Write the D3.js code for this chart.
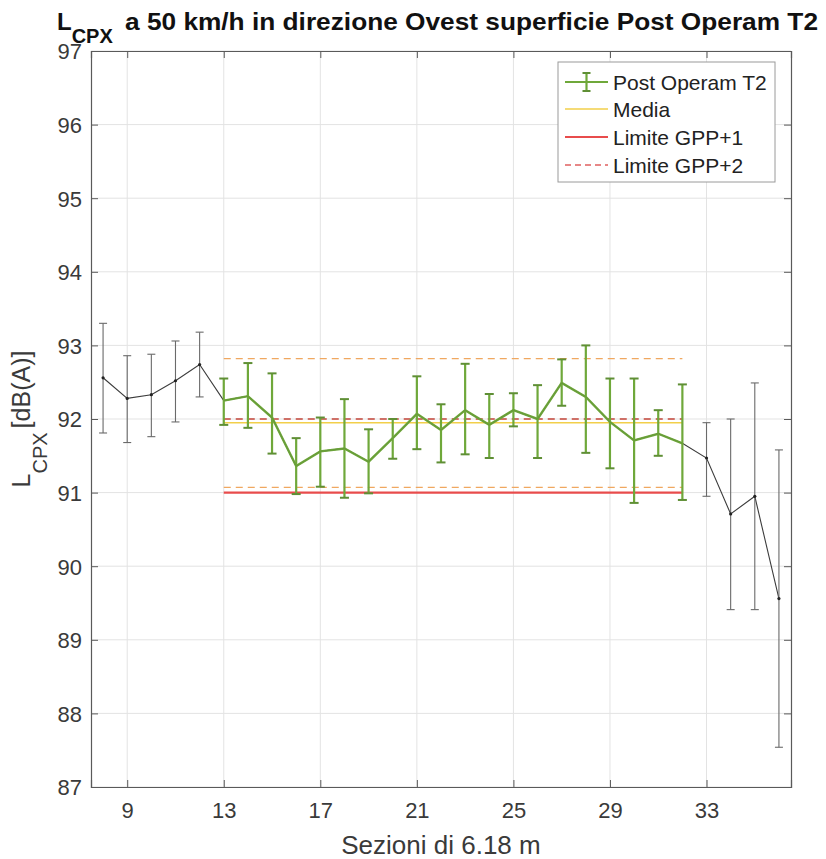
<!DOCTYPE html>
<html><head><meta charset="utf-8">
<script src="https://cdn.jsdelivr.net/npm/d3@7"></script>
<style>body{margin:0;background:#fff;} svg{display:block;font-family:"Liberation Sans",Arial,sans-serif;}</style>
</head><body>
<svg id="c" width="826" height="859"></svg>
<script>
// ---- data ----
const sections = [8,9,10,11,12,13,14,15,16,17,18,19,20,21,22,23,24,25,26,27,28,29,30,31,32,33,34,35,36];
const meanValues = [92.56,92.28,92.33,92.52,92.74,92.25,92.31,92.02,91.36,91.56,91.60,91.42,91.74,92.07,91.85,92.12,91.92,92.12,92.00,92.49,92.30,91.96,91.71,91.80,91.67,91.47,90.71,90.95,89.56];
const upperValues = [93.30,92.86,92.88,93.06,93.18,92.55,92.76,92.62,91.74,92.02,92.27,91.86,92.00,92.58,92.20,92.75,92.34,92.35,92.46,92.81,93.00,92.55,92.55,92.12,92.47,91.95,92.00,92.49,91.58];
const lowerValues = [91.81,91.68,91.76,91.96,92.30,91.92,91.88,91.53,90.98,91.08,90.93,90.99,91.46,91.59,91.41,91.52,91.47,91.90,91.47,92.18,91.54,91.33,90.86,91.50,90.90,90.95,89.41,89.41,87.54];
const postOperamRange = [13, 32];
const mediaValue = 91.95;
const limiteGPP1 = 91.0;
const limiteGPP2 = 92.0;
const bandValues = [92.82, 91.07];
const xTicks = [9,13,17,21,25,29,33];
const yTicks = [87,88,89,90,91,92,93,94,95,96,97];
const legendLabels = ["Post Operam T2","Media","Limite GPP+1","Limite GPP+2"];

// ---- layout ----
const L = 91, R = 791, T = 51, B = 787;
const svg = d3.select("#c");
const x = d3.scaleLinear().domain([7.5, 36.5]).range([L, R]);
const y = d3.scaleLinear().domain([87, 97]).range([B, T]);
const axisCol = "#5a5a5a", textCol = "#3a3a3a";

const pts = sections.map((s,i)=>({s, m:meanValues[i], u:upperValues[i], l:lowerValues[i]}));
const green = pts.filter(p=>p.s>=postOperamRange[0] && p.s<=postOperamRange[1]);

// grid
const g = svg.append("g");
g.selectAll(".gx").data(xTicks).join("line").attr("x1",d=>x(d)).attr("x2",d=>x(d)).attr("y1",T).attr("y2",B).attr("stroke","#e3e3e3").attr("stroke-width",1);
g.selectAll(".gy").data(yTicks).join("line").attr("x1",L).attr("x2",R).attr("y1",d=>y(d)).attr("y2",d=>y(d)).attr("stroke","#e3e3e3").attr("stroke-width",1);

// axes
const ax = svg.append("g").attr("transform",`translate(0,${B})`).call(d3.axisBottom(x).tickValues(xTicks).tickSize(-7).tickPadding(15).tickFormat(d3.format("d")));
const axT = svg.append("g").attr("transform",`translate(0,${T})`).call(d3.axisTop(x).tickValues(xTicks).tickSize(-7).tickFormat(""));
const ay = svg.append("g").attr("transform",`translate(${L},0)`).call(d3.axisLeft(y).tickValues(yTicks).tickSize(-7).tickPadding(9).tickFormat(d3.format("d")));
const ayR = svg.append("g").attr("transform",`translate(${R},0)`).call(d3.axisRight(y).tickValues(yTicks).tickSize(-7).tickFormat(""));
[ax,axT,ay,ayR].forEach(a=>{
  a.select(".domain").attr("stroke",axisCol).attr("stroke-width",1.2);
  a.selectAll(".tick line").attr("stroke",axisCol);
  a.selectAll(".tick text").attr("fill",textCol).attr("font-size",22).attr("font-family","Liberation Sans, Arial, sans-serif");
});
ay.selectAll(".tick text").attr("dy","0.36em");

// horizontal reference lines
const hx1 = x(postOperamRange[0]), hx2 = x(postOperamRange[1]);
svg.selectAll(".band").data(bandValues).join("line").attr("x1",hx1).attr("x2",hx2).attr("y1",d=>y(d)).attr("y2",d=>y(d)).attr("stroke","#f0a860").attr("stroke-width",1.2).attr("stroke-dasharray","7,5");
svg.append("line").attr("x1",hx1).attr("x2",hx2).attr("y1",y(limiteGPP1)).attr("y2",y(limiteGPP1)).attr("stroke","#e84c4c").attr("stroke-width",2.2);
svg.append("line").attr("x1",hx1).attr("x2",hx2).attr("y1",y(limiteGPP2)).attr("y2",y(limiteGPP2)).attr("stroke","#c4453a").attr("stroke-width",1.6).attr("stroke-dasharray","7,5");
svg.append("line").attr("x1",hx1).attr("x2",hx2).attr("y1",y(mediaValue)).attr("y2",y(mediaValue)).attr("stroke","#f2cf4a").attr("stroke-width",1.6);

// black series (all)
const line = d3.line().x(d=>x(d.s)).y(d=>y(d.m));
svg.append("path").datum(pts).attr("d",line).attr("fill","none").attr("stroke","#3c3c3c").attr("stroke-width",1.1);
const eb = svg.append("g").selectAll("g").data(pts.filter(p=>!green.includes(p))).join("g");
eb.append("line").attr("x1",d=>x(d.s)).attr("x2",d=>x(d.s)).attr("y1",d=>y(d.u)).attr("y2",d=>y(d.l)).attr("stroke","#6a6a6a").attr("stroke-width",1.1);
eb.append("line").attr("x1",d=>x(d.s)-4).attr("x2",d=>x(d.s)+4).attr("y1",d=>y(d.u)).attr("y2",d=>y(d.u)).attr("stroke","#6a6a6a").attr("stroke-width",1.1);
eb.append("line").attr("x1",d=>x(d.s)-4).attr("x2",d=>x(d.s)+4).attr("y1",d=>y(d.l)).attr("y2",d=>y(d.l)).attr("stroke","#6a6a6a").attr("stroke-width",1.1);
eb.append("circle").attr("cx",d=>x(d.s)).attr("cy",d=>y(d.m)).attr("r",1.6).attr("fill","#222");

// green series
const gc = "#6fa83a";
svg.append("path").datum(green).attr("d",line).attr("fill","none").attr("stroke",gc).attr("stroke-width",2.4);
const ge = svg.append("g").selectAll("g").data(green).join("g");
ge.append("line").attr("x1",d=>x(d.s)).attr("x2",d=>x(d.s)).attr("y1",d=>y(d.u)).attr("y2",d=>y(d.l)).attr("stroke",gc).attr("stroke-width",2.2);
ge.append("line").attr("x1",d=>x(d.s)-4.5).attr("x2",d=>x(d.s)+4.5).attr("y1",d=>y(d.u)).attr("y2",d=>y(d.u)).attr("stroke","#5f8f35").attr("stroke-width",2);
ge.append("line").attr("x1",d=>x(d.s)-4.5).attr("x2",d=>x(d.s)+4.5).attr("y1",d=>y(d.l)).attr("y2",d=>y(d.l)).attr("stroke","#5f8f35").attr("stroke-width",2);
svg.append("path").datum(green).attr("d",line).attr("fill","none").attr("stroke","#5d8a3a").attr("stroke-width",1).attr("opacity",0.5);

// legend
const lg = svg.append("g");
lg.append("rect").attr("x",558).attr("y",62).attr("width",217).attr("height",120).attr("fill","#fff").attr("stroke","#9a9a9a").attr("stroke-width",1);
const rowY = [82,109,137,165];
const lx1 = 565, lx2 = 608;
lg.append("line").attr("x1",lx1).attr("x2",lx2).attr("y1",rowY[0]).attr("y2",rowY[0]).attr("stroke",gc).attr("stroke-width",2.2);
lg.append("line").attr("x1",(lx1+lx2)/2).attr("x2",(lx1+lx2)/2).attr("y1",rowY[0]-9).attr("y2",rowY[0]+9).attr("stroke",gc).attr("stroke-width",2.2);
[-9,9].forEach(o=>lg.append("line").attr("x1",(lx1+lx2)/2-4).attr("x2",(lx1+lx2)/2+4).attr("y1",rowY[0]+o).attr("y2",rowY[0]+o).attr("stroke","#5f8f35").attr("stroke-width",2));
lg.append("line").attr("x1",lx1).attr("x2",lx2).attr("y1",rowY[1]).attr("y2",rowY[1]).attr("stroke","#f2cf4a").attr("stroke-width",1.6);
lg.append("line").attr("x1",lx1).attr("x2",lx2).attr("y1",rowY[2]).attr("y2",rowY[2]).attr("stroke","#e84c4c").attr("stroke-width",2.2);
lg.append("line").attr("x1",lx1).attr("x2",lx2).attr("y1",rowY[3]).attr("y2",rowY[3]).attr("stroke","#e06060").attr("stroke-width",1.4).attr("stroke-dasharray","6,4");
lg.selectAll("text").data(legendLabels).join("text").attr("x",613).attr("y",(d,i)=>rowY[i]).attr("dy","0.36em").attr("font-size",21).attr("fill","#222").text(d=>d);

// title
const tL = svg.append("text").attr("x",57).attr("y",30).attr("font-weight","bold").attr("font-size",24).attr("fill","#111");
tL.append("tspan").text("L");
tL.append("tspan").attr("font-size",20).attr("dy",13).text("CPX");
svg.append("text").attr("x",125).attr("y",30).attr("font-weight","bold").attr("font-size",24).attr("fill","#111")
  .attr("textLength",693).attr("lengthAdjust","spacingAndGlyphs")
  .text("a 50 km/h in direzione Ovest superficie Post Operam T2");

// axis labels
svg.append("text").attr("x",(L+R)/2).attr("y",854).attr("text-anchor","middle").attr("font-size",26).attr("fill",textCol).text("Sezioni di 6.18 m");
const yl = svg.append("text").attr("transform",`translate(30,${(T+B)/2}) rotate(-90)`).attr("text-anchor","middle").attr("font-size",25).attr("fill",textCol);
yl.append("tspan").text("L");
yl.append("tspan").attr("font-size",20).attr("dy",17).text("CPX");
yl.append("tspan").attr("dy",-17).attr("dx",4).text("[dB(A)]");
</script>
</body></html>
